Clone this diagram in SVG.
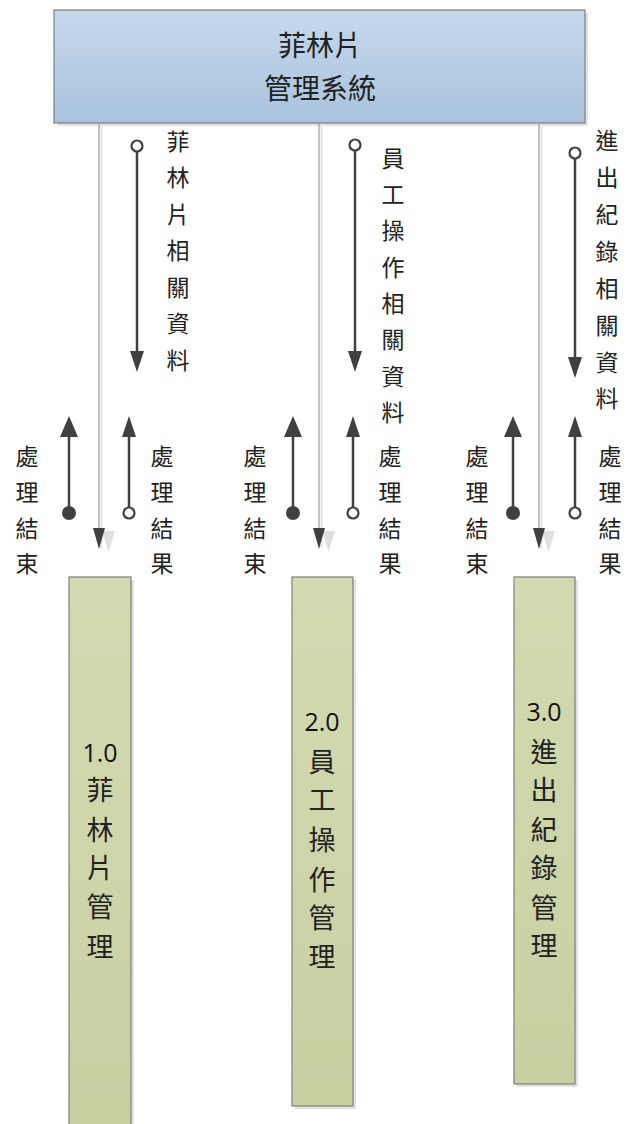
<svg xmlns="http://www.w3.org/2000/svg" width="627" height="1124" viewBox="0 0 627 1124">
<style>
.t{font-family:"Noto Sans CJK TC","Noto Sans CJK SC",sans-serif;fill:#222;text-anchor:middle}
.s{font-size:23px}
.b{font-size:27px}
.n{font-family:"Open Sans","Liberation Sans",sans-serif;font-size:25px;fill:#111;text-anchor:middle}
.main{stroke:#9a9a9a;stroke-width:1.2;fill:none}
.mainsh{stroke:#e4e4e4;stroke-width:2;fill:none}
.flow{stroke:#404040;stroke-width:2.5;fill:none}
.green{fill:#cdd5a8;stroke:#7f7f7f;stroke-width:1.2}
.sh{fill:#e2e2e2}
</style>
<defs>
<linearGradient id="gb" x1="0" y1="0" x2="0" y2="1">
<stop offset="0" stop-color="#c6d8eb"/>
<stop offset="1" stop-color="#a9c3dd"/>
</linearGradient>
<linearGradient id="gg" x1="0" y1="0" x2="0" y2="1">
<stop offset="0" stop-color="#d3dab1"/>
<stop offset="1" stop-color="#c8d0a2"/>
</linearGradient>
<marker id="ah" viewBox="0 0 10 10" refX="10" refY="5" markerWidth="6" markerHeight="6" markerUnits="strokeWidth" orient="auto">
<path d="M0,0 L10,5 L0,10 z" fill="#404040"/>
</marker>
</defs>

<g id="top">
<rect x="57" y="13" width="531" height="113" class="sh"/>
<rect x="54" y="10" width="531" height="113" fill="url(#gb)" stroke="#7f7f7f" stroke-width="1.2"/>
<text class="t" font-size="28" x="320" y="56">菲林片</text>
<text class="t" font-size="28" x="320" y="99">管理系統</text>
</g>

<g id="p1">
<rect x="72" y="580" width="62" height="550" class="sh"/>
<rect x="69" y="577" width="62" height="550" fill="url(#gg)" stroke="#7f7f7f" stroke-width="1.2"/>
<text class="n" x="100" y="762">1.0</text>
<text class="t b"><tspan x="100" y="800">菲</tspan><tspan x="100" y="840">林</tspan><tspan x="100" y="878">片</tspan><tspan x="100" y="917">管</tspan><tspan x="100" y="957">理</tspan></text>
</g>

<g id="p2">
<rect x="295" y="580" width="61" height="529" class="sh"/>
<rect x="292" y="577" width="61" height="529" fill="url(#gg)" stroke="#7f7f7f" stroke-width="1.2"/>
<text class="n" x="322" y="731">2.0</text>
<text class="t b"><tspan x="322" y="772">員</tspan><tspan x="322" y="810">工</tspan><tspan x="322" y="850">操</tspan><tspan x="322" y="890">作</tspan><tspan x="322" y="928">管</tspan><tspan x="322" y="967">理</tspan></text>
</g>

<g id="p3">
<rect x="517" y="580" width="61" height="507" class="sh"/>
<rect x="514" y="577" width="61" height="507" fill="url(#gg)" stroke="#7f7f7f" stroke-width="1.2"/>
<text class="n" x="544" y="721">3.0</text>
<text class="t b"><tspan x="544" y="762">進</tspan><tspan x="544" y="800">出</tspan><tspan x="544" y="840">紀</tspan><tspan x="544" y="878">錄</tspan><tspan x="544" y="918">管</tspan><tspan x="544" y="956">理</tspan></text>
</g>

<g id="connectors">
<!-- main control lines -->
<line x1="101.5" y1="126" x2="101.5" y2="548" class="mainsh"/>
<line x1="99" y1="123" x2="99" y2="530" class="main"/>
<path d="M102,531 L115,531 L108.5,552 z" fill="#e0e0e0"/>
<path d="M93,528 L105,528 L99,549 z" fill="#404040"/>

<line x1="321.5" y1="126" x2="321.5" y2="548" class="mainsh"/>
<line x1="319" y1="123" x2="319" y2="530" class="main"/>
<path d="M322,531 L335,531 L328.5,552 z" fill="#e0e0e0"/>
<path d="M313,528 L325,528 L319,549 z" fill="#404040"/>

<line x1="541.5" y1="126" x2="541.5" y2="548" class="mainsh"/>
<line x1="539" y1="123" x2="539" y2="530" class="main"/>
<path d="M542,531 L555,531 L548.5,552 z" fill="#e0e0e0"/>
<path d="M533,528 L545,528 L539,549 z" fill="#404040"/>

<!-- data flows down -->
<circle cx="137" cy="146" r="5.5" fill="#fff" stroke="#404040" stroke-width="2.2"/>
<path d="M137,152 V352" class="flow"/>
<path d="M130,351 L144,351 L137,372 z" fill="#404040"/>

<circle cx="355" cy="145" r="5.5" fill="#fff" stroke="#404040" stroke-width="2.2"/>
<path d="M355,151 V352" class="flow"/>
<path d="M348,351 L362,351 L355,372 z" fill="#404040"/>

<circle cx="575" cy="153" r="5.5" fill="#fff" stroke="#404040" stroke-width="2.2"/>
<path d="M575,159 V358" class="flow"/>
<path d="M568,357 L582,357 L575,378 z" fill="#404040"/>

<!-- flows up -->
<circle cx="69" cy="513" r="7" fill="#404040"/>
<path d="M69,513 V436" class="flow"/>
<path d="M60,437 L78,437 L69,416 z" fill="#404040"/>
<circle cx="129" cy="513" r="5.5" fill="#fff" stroke="#404040" stroke-width="2.2"/>
<path d="M129,507 V436" class="flow"/>
<path d="M122,437 L136,437 L129,416 z" fill="#404040"/>

<circle cx="293" cy="513" r="7" fill="#404040"/>
<path d="M293,513 V436" class="flow"/>
<path d="M284,437 L302,437 L293,416 z" fill="#404040"/>
<circle cx="353" cy="513" r="5.5" fill="#fff" stroke="#404040" stroke-width="2.2"/>
<path d="M353,507 V436" class="flow"/>
<path d="M346,437 L360,437 L353,416 z" fill="#404040"/>

<circle cx="513" cy="513" r="7" fill="#404040"/>
<path d="M513,513 V436" class="flow"/>
<path d="M504,437 L522,437 L513,416 z" fill="#404040"/>
<circle cx="575" cy="513" r="5.5" fill="#fff" stroke="#404040" stroke-width="2.2"/>
<path d="M575,507 V436" class="flow"/>
<path d="M568,437 L582,437 L575,416 z" fill="#404040"/>
</g>

<g id="labels">
<text class="t s"><tspan x="178" y="150">菲</tspan><tspan x="178" y="186">林</tspan><tspan x="178" y="223">片</tspan><tspan x="178" y="259">相</tspan><tspan x="178" y="296">關</tspan><tspan x="178" y="332">資</tspan><tspan x="178" y="369">料</tspan></text>
<text class="t s"><tspan x="393" y="167">員</tspan><tspan x="393" y="203">工</tspan><tspan x="393" y="239">操</tspan><tspan x="393" y="276">作</tspan><tspan x="393" y="312">相</tspan><tspan x="393" y="348">關</tspan><tspan x="393" y="385">資</tspan><tspan x="393" y="421">料</tspan></text>
<text class="t s"><tspan x="607" y="149">進</tspan><tspan x="607" y="186">出</tspan><tspan x="607" y="223">紀</tspan><tspan x="607" y="260">錄</tspan><tspan x="607" y="297">相</tspan><tspan x="607" y="334">關</tspan><tspan x="607" y="371">資</tspan><tspan x="607" y="407">料</tspan></text>

<text class="t s"><tspan x="27" y="465">處</tspan><tspan x="27" y="501">理</tspan><tspan x="27" y="537">結</tspan><tspan x="27" y="572">束</tspan></text>
<text class="t s"><tspan x="162" y="465">處</tspan><tspan x="162" y="501">理</tspan><tspan x="162" y="537">結</tspan><tspan x="162" y="572">果</tspan></text>
<text class="t s"><tspan x="255" y="465">處</tspan><tspan x="255" y="501">理</tspan><tspan x="255" y="537">結</tspan><tspan x="255" y="572">束</tspan></text>
<text class="t s"><tspan x="390" y="465">處</tspan><tspan x="390" y="501">理</tspan><tspan x="390" y="537">結</tspan><tspan x="390" y="572">果</tspan></text>
<text class="t s"><tspan x="477" y="465">處</tspan><tspan x="477" y="501">理</tspan><tspan x="477" y="537">結</tspan><tspan x="477" y="572">束</tspan></text>
<text class="t s"><tspan x="610" y="465">處</tspan><tspan x="610" y="501">理</tspan><tspan x="610" y="537">結</tspan><tspan x="610" y="572">果</tspan></text>
</g>
</svg>
